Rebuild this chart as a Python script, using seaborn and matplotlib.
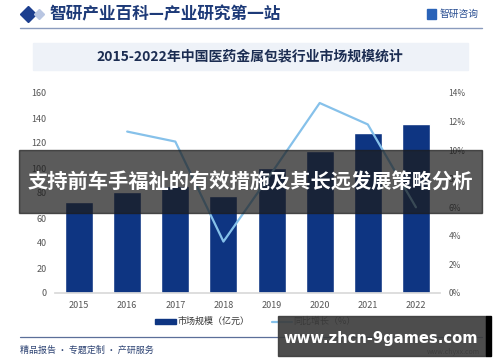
import numpy as np
import pandas as pd
import seaborn as sns
import matplotlib.pyplot as plt
from matplotlib.patches import Rectangle
from matplotlib.lines import Line2D

years = ['2015', '2016', '2017', '2018', '2019', '2020', '2021', '2022']
market = [73, 81, 86, 78, 100, 114, 128, 135]          # 亿元
growth = [np.nan, 11.3, 10.6, 3.6, 8.4, 13.3, 11.8, 6.0]  # %

left_ticks = [0, 20, 40, 60, 80, 100, 120, 140, 160]
right_ticks = [0, 2, 4, 6, 8, 10, 12, 14]

title = '2015-2022年中国医药金属包装行业市场规模统计'
header = '智研产业百科—产业研究第一站'
banner = '支持前车手福祉的有效措施及其长远发展策略分析'

sns.set_theme(style='white')
plt.rcParams['font.family'] = ['Noto Sans CJK SC', 'DejaVu Sans']

W, H = 500, 362
fig = plt.figure(figsize=(5, 3.62), dpi=100)


def fx(px):
    return px / W


def fy(py):
    return 1 - py / H


navy = '#0e3582'
light = '#86c1ea'

# main plot
ax = fig.add_axes([fx(55), fy(293), fx(385), 200 / H])
df = pd.DataFrame({'year': years, 'market': market, 'growth': growth})
sns.barplot(data=df, x='year', y='market', color=navy, width=0.58,
            saturation=1, ax=ax)
ax.set_ylim(0, 160)
ax.set_yticks(left_ticks)
ax.set_xlabel('')
ax.set_ylabel('')
ax.tick_params(axis='both', labelsize=6.5, colors='#555555', length=0, pad=6)
for s in ['top', 'right', 'left']:
    ax.spines[s].set_visible(False)
ax.spines['bottom'].set_color('#d9d9d9')

ax2 = ax.twinx()
pos = np.arange(len(years))
sns.lineplot(x=pos, y=df['growth'], color=light, linewidth=1.6, ax=ax2)
ax2.set_ylim(0, 14)
ax2.set_yticks(right_ticks)
ax2.set_yticklabels([f'{t}%' for t in right_ticks])
ax2.set_ylabel('')
ax2.tick_params(axis='y', labelsize=6, colors='#555555', length=0, pad=6)
for s in ax2.spines.values():
    s.set_visible(False)
ax.set_xlim(-0.5, len(years) - 0.5)

# header
fig.add_artist(Line2D([fx(28)], [fy(14)], marker='D', markersize=8,
                      color='#1d3f8f', transform=fig.transFigure))
fig.add_artist(Line2D([fx(39)], [fy(14)], marker='D', markersize=5.5,
                      color='#b9c6e2', transform=fig.transFigure))
fig.text(fx(49), fy(14), header, fontsize=12, fontweight='bold',
         color='#1d3a78', va='center', ha='left')
fig.add_artist(Rectangle((fx(427), fy(19)), fx(9), 10 / H, color='#2a63b8',
                         transform=fig.transFigure))
fig.text(fx(440), fy(14), '智研咨询', fontsize=7, color='#2a4f93',
         va='center', ha='left')
fig.add_artist(Line2D([fx(20), fx(482)], [fy(28), fy(28)], color='#8a9bbd',
                      linewidth=1, transform=fig.transFigure))

# title box
fig.add_artist(Rectangle((fx(33), fy(70)), fx(435), 27 / H, color='#eef2f8',
                         transform=fig.transFigure, zorder=0))
fig.text(fx(250), fy(56.5), title, fontsize=10, fontweight='bold',
         color='#1c2d52', va='center', ha='center')

# legend
fig.add_artist(Rectangle((fx(155), fy(324)), fx(21), 5 / H, color=navy,
                         transform=fig.transFigure))
fig.text(fx(177), fy(321.5), '市场规模（亿元）', fontsize=6.5, color='#333333',
         va='center', ha='left')
fig.add_artist(Line2D([fx(272), fx(292)], [fy(321.5), fy(321.5)], color=light,
                      linewidth=1.6, transform=fig.transFigure))
fig.text(fx(293), fy(321.5), '同比增长（%）', fontsize=6.5, color='#333333',
         va='center', ha='left')

# footer
fig.add_artist(Line2D([fx(20), fx(482)], [fy(337), fy(337)], color='#5b6f99',
                      linewidth=0.9, transform=fig.transFigure))
fig.text(fx(20), fy(350), '精品报告 · 专题定制 · 产研服务', fontsize=6.5,
         color='#2d4373', va='center', ha='left')
fig.text(fx(480), fy(352), 'www.chyxx.com', fontsize=5, color='#555555',
         va='center', ha='right')

# overlays
fig.add_artist(Rectangle((fx(19), fy(213)), fx(463), 63 / H, color='#1c1c1c',
                         alpha=0.72, transform=fig.transFigure, zorder=10))
fig.text(fx(250), fy(182), banner, fontsize=14.6, fontweight='bold',
         color='white', va='center', ha='center', zorder=11)
fig.add_artist(Rectangle((fx(278), fy(356)), fx(208), 40 / H, color='#3a3a3a',
                         alpha=0.9, transform=fig.transFigure, zorder=10))
fig.add_artist(Rectangle((fx(486), fy(356)), fx(5), 40 / H, color='black',
                         transform=fig.transFigure, zorder=10))
fig.text(fx(381), fy(338), 'www.zhcn-9games.com', fontsize=10.6,
         fontweight='bold', color='white', va='center', ha='center',
         family=['DejaVu Sans'], zorder=11)

fig.savefig('out.png', dpi=100)
